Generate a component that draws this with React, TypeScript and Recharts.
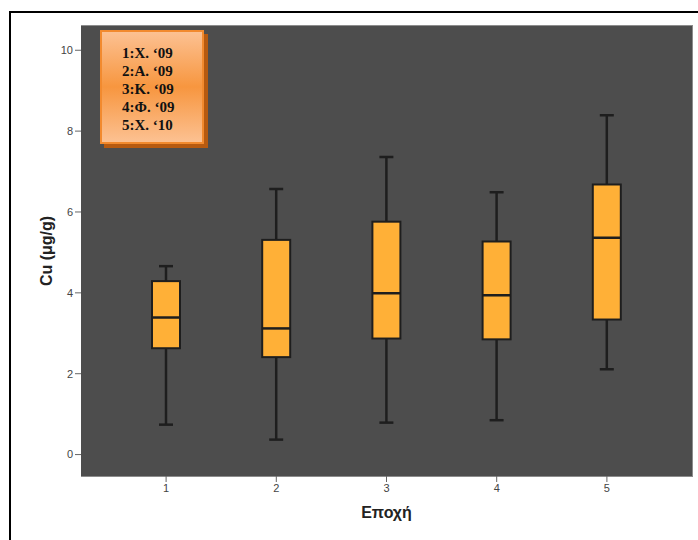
import React from 'react';
import { ComposedChart, Bar, XAxis, YAxis, CartesianGrid, Label } from 'recharts';

// ---- data ----
const categories = ['1', '2', '3', '4', '5'];
const whiskerLow = [0.74, 0.37, 0.79, 0.85, 2.11];
const quartile1 = [2.63, 2.41, 2.87, 2.85, 3.34];
const medians = [3.39, 3.12, 3.99, 3.94, 5.36];
const quartile3 = [4.29, 5.31, 5.76, 5.27, 6.68];
const whiskerHigh = [4.66, 6.57, 7.36, 6.49, 8.39];
const yTicks = [0, 2, 4, 6, 8, 10];
const legendLines = ['1:Χ. ‘09', '2:Α. ‘09', '3:Κ. ‘09', '4:Φ. ‘09', '5:Χ. ‘10'];

const data = categories.map((c, i) => ({
  cat: c,
  range: [whiskerLow[i], whiskerHigh[i]],
  lo: whiskerLow[i],
  q1: quartile1[i],
  med: medians[i],
  q3: quartile3[i],
  hi: whiskerHigh[i],
}));

const BoxShape = (props: any) => {
  const { x, y, width, height, payload } = props;
  if (x == null || y == null) return null;
  const top = Math.min(y, y + height);
  const bottom = Math.max(y, y + height);
  const { lo, hi, q1, med, q3 } = payload;
  const toPx = (v: number) => top + ((bottom - top) * (hi - v)) / (hi - lo);
  const cx = x + width / 2;
  const capHalf = 7;
  const stroke = '#1e1e1e';
  return (
    <g>
      <line x1={cx} x2={cx} y1={toPx(hi)} y2={toPx(q3)} stroke={stroke} strokeWidth={2.5} />
      <line x1={cx} x2={cx} y1={toPx(q1)} y2={toPx(lo)} stroke={stroke} strokeWidth={2.5} />
      <line x1={cx - capHalf} x2={cx + capHalf} y1={toPx(hi)} y2={toPx(hi)} stroke={stroke} strokeWidth={2.5} />
      <line x1={cx - capHalf} x2={cx + capHalf} y1={toPx(lo)} y2={toPx(lo)} stroke={stroke} strokeWidth={2.5} />
      <rect x={x} y={toPx(q3)} width={width} height={toPx(q1) - toPx(q3)} fill="#FFB037" stroke={stroke} strokeWidth={2} />
      <line x1={x} x2={x + width} y1={toPx(med)} y2={toPx(med)} stroke={stroke} strokeWidth={2.5} />
    </g>
  );
};

const axisFont = 'Liberation Sans, Arial, sans-serif';

export default function App() {
  return (
    <div style={{ position: 'absolute', left: 0, top: 0, width: 698, height: 540, overflow: 'hidden', background: '#fff' }}>
      <div style={{ position: 'absolute', left: 9, top: 11, width: 720, height: 600, border: '2px solid #000', boxSizing: 'border-box' }} />
      <div style={{ position: 'absolute', left: 81, top: 25, width: 612, height: 452, boxSizing: 'border-box', border: '1px solid #8c8c8c' }} />
      <div style={{ position: 'absolute', left: 0, top: 0 }}>
        <ComposedChart width={698} height={540} data={data} margin={{ top: 26, right: 6, bottom: 14, left: 0 }}>
          <CartesianGrid fill="#4d4d4d" fillOpacity={1} horizontal={false} vertical={false} />
          <XAxis
            dataKey="cat"
            type="category"
            padding={{ left: 30, right: 30 }}
            axisLine={false}
            tickLine={{ stroke: '#666' }}
            tickSize={6}
            height={50}
            tick={{ fill: '#444', fontSize: 11, fontFamily: axisFont }}
          >
            <Label value="Εποχή" position="insideBottom" offset={8} style={{ fill: '#222', fontSize: 16, fontWeight: 'bold', fontFamily: axisFont }} />
          </XAxis>
          <YAxis
            type="number"
            domain={[-0.53, 10.6]}
            ticks={yTicks}
            allowDataOverflow
            width={81}
            axisLine={false}
            tickLine={{ stroke: '#666' }}
            tickSize={6}
            tick={{ fill: '#444', fontSize: 11, fontFamily: axisFont }}
          >
            <Label value="Cu (μg/g)" angle={-90} position="center" dx={6} dy={0} style={{ fill: '#222', fontSize: 16, fontWeight: 'bold', fontFamily: axisFont, textAnchor: 'middle' }} />
          </YAxis>
          <Bar dataKey="range" barSize={28} shape={<BoxShape />} isAnimationActive={false} />
        </ComposedChart>
      </div>
      <div
        style={{
          position: 'absolute',
          left: 100,
          top: 30,
          width: 104,
          height: 114,
          boxSizing: 'border-box',
          border: '2px solid #F28A2E',
          background: 'linear-gradient(to bottom, #FCC192 0%, #F7963F 50%, #FCC192 100%)',
          boxShadow: '4px 4px 0 #B65A10',
          paddingTop: 12,
          paddingLeft: 20,
          fontFamily: '"Liberation Serif", "Times New Roman", serif',
          fontWeight: 'bold',
          fontSize: 15,
          lineHeight: '18px',
          color: '#111',
        }}
      >
        {legendLines.map((l) => (
          <div key={l}>{l}</div>
        ))}
      </div>
    </div>
  );
}
